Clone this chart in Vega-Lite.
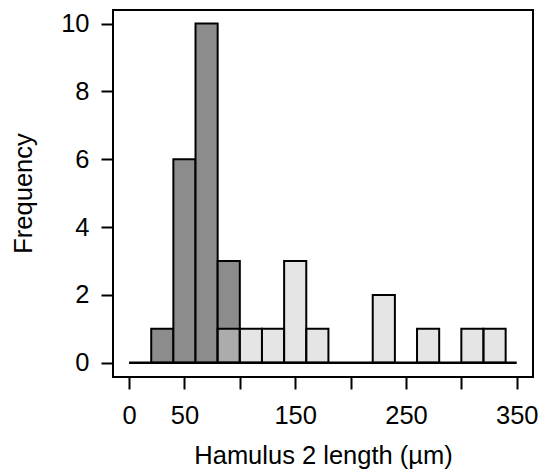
{
  "$schema": "https://vega.github.io/schema/vega-lite/v6.json",
  "autosize": "none",
  "width": 420,
  "height": 367,
  "padding": {"left": 113, "top": 10, "right": 8, "bottom": 97},
  "background": "white",
  "config": {
    "view": {"stroke": "black", "strokeWidth": 2},
    "font": "Liberation Sans",
    "axis": {
      "grid": false,
      "domain": false,
      "tickColor": "black",
      "tickWidth": 2,
      "tickSize": 12,
      "labelColor": "black",
      "labelFont": "Liberation Sans",
      "labelFontSize": 25.5,
      "titleFont": "Liberation Sans",
      "titleFontSize": 25.5,
      "titleFontWeight": "normal",
      "titleColor": "black"
    }
  },
  "datasets": {
    "hist": [
      {"bin_start": 20, "bin_end": 40, "count": 1, "group": "dark"},
      {"bin_start": 40, "bin_end": 60, "count": 6, "group": "dark"},
      {"bin_start": 60, "bin_end": 80, "count": 10, "group": "dark"},
      {"bin_start": 80, "bin_end": 100, "count": 3, "group": "dark"},
      {"bin_start": 80, "bin_end": 100, "count": 1, "group": "light"},
      {"bin_start": 100, "bin_end": 120, "count": 1, "group": "light"},
      {"bin_start": 120, "bin_end": 140, "count": 1, "group": "light"},
      {"bin_start": 140, "bin_end": 160, "count": 3, "group": "light"},
      {"bin_start": 160, "bin_end": 180, "count": 1, "group": "light"},
      {"bin_start": 220, "bin_end": 240, "count": 2, "group": "light"},
      {"bin_start": 260, "bin_end": 280, "count": 1, "group": "light"},
      {"bin_start": 300, "bin_end": 320, "count": 1, "group": "light"},
      {"bin_start": 320, "bin_end": 340, "count": 1, "group": "light"}
    ],
    "base": [{"from": 0, "to": 350, "level": 0}]
  },
  "layer": [
    {
      "data": {"name": "hist"},
      "transform": [{"filter": "datum.group == 'dark'"}],
      "mark": {"type": "bar", "fill": "#8c8c8c", "stroke": "black", "strokeWidth": 2},
      "encoding": {
        "x": {
          "field": "bin_start", "type": "quantitative",
          "scale": {"domain": [-14.5, 364.7], "nice": false, "zero": false},
          "axis": {
            "values": [0, 50, 100, 150, 200, 250, 300, 350],
            "labelExpr": "datum.value == 100 || datum.value == 200 || datum.value == 300 ? '' : datum.label",
            "labelOverlap": false,
            "labelFlush": false,
            "labelBound": false,
            "labelBaseline": "alphabetic",
            "labelPadding": 34,
            "title": "Hamulus 2 length (µm)",
            "titleBaseline": "alphabetic",
            "titleY": 86,
            "titleX": 210
          }
        },
        "x2": {"field": "bin_end"},
        "y": {
          "field": "count", "type": "quantitative",
          "scale": {"domain": [-0.42, 10.4], "nice": false, "zero": false},
          "axis": {
            "values": [0, 2, 4, 6, 8, 10],
            "labelPadding": 12,
            "labelBaseline": "middle",
            "title": "Frequency",
            "titleAngle": 270,
            "titleBaseline": "alphabetic",
            "titleAlign": "center",
            "titleX": -82,
            "titleY": 183
          }
        },
        "y2": {"datum": 0}
      }
    },
    {
      "data": {"name": "hist"},
      "transform": [{"filter": "datum.group == 'light'"}],
      "mark": {"type": "bar", "fill": "#cccccc", "fillOpacity": 0.5, "stroke": "black", "strokeWidth": 2},
      "encoding": {
        "x": {"field": "bin_start", "type": "quantitative"},
        "x2": {"field": "bin_end"},
        "y": {"field": "count", "type": "quantitative"},
        "y2": {"datum": 0}
      }
    },
    {
      "data": {"name": "base"},
      "mark": {"type": "rule", "color": "black", "strokeWidth": 2.5},
      "encoding": {
        "x": {"field": "from", "type": "quantitative"},
        "x2": {"field": "to"},
        "y": {"field": "level", "type": "quantitative"}
      }
    }
  ]
}
